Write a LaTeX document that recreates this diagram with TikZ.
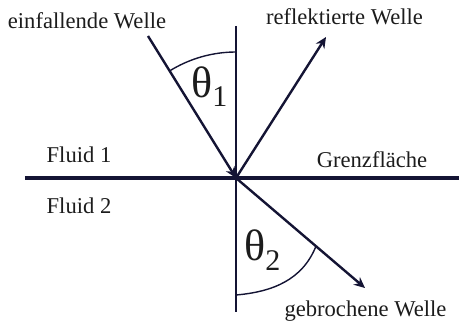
\documentclass[tikz,border=0pt]{standalone}
\usepackage{fontspec}
\setmainfont{Liberation Serif}
\usepackage{tikz}
\usetikzlibrary{arrows.meta,calc}
\definecolor{WaveNavy}{RGB}{20,20,52}
\definecolor{TextBlack}{RGB}{28,28,28}

\begin{document}
\begin{tikzpicture}[x=.5pt,y=.5pt,
    wave/.style={line width=1.2pt,WaveNavy,-{Stealth[length=5.5pt,width=5pt]}},
    lbl/.style={anchor=base,inner sep=0pt,TextBlack,font=\fontsize{11.3}{13}\selectfont},
    ang/.style={anchor=base west,inner sep=0pt,TextBlack,font=\fontsize{22}{24}\selectfont}]
  \useasboundingbox (-236,-144) rectangle (223,178);
  % points of the rays
  \coordinate (O) at (0,0);
  \coordinate (gL) at (-211,0);
  \coordinate (gR) at (223,0);
  \coordinate (nTop) at (0,152);
  \coordinate (nBot) at (0,-134);
  \coordinate (inc) at (-88,142);
  \coordinate (refl) at (90,141);
  \coordinate (refr) at (129,-110);
  \coordinate (a1) at (0,126);
  \coordinate (a2) at (0,-117);
  \draw[line width=1.7pt,WaveNavy] (gL) -- (gR);
  \draw[line width=.9pt,WaveNavy] (nTop) -- (nBot);
  \draw[wave] (inc) -- (O);
  \draw[wave] (O) -- (refl);
  \draw[wave] (O) -- (refr);
  % angles
  \draw[line width=.7pt,WaveNavy] (a1) arc[start angle=90,end angle=121.8,radius=63pt];
  \draw[line width=.7pt,WaveNavy] (a2) to[out=5,in=-112] ($(O)!.62!(refr)$);
  \node[lbl] (incLbl) at (-149,149) {einfallende Welle};
  \node[lbl] (reflLbl) at (108.5,153) {reflektierte Welle};
  \node[lbl] (fluidA) at (-157,16) {Fluid 1};
  \node[lbl] (fluidB) at (-157,-35) {Fluid 2};
  \node[lbl] (gLbl) at (136,11) {Grenzfläche};
  \node[lbl] (refrLbl) at (129.5,-138) {gebrochene Welle};
  \node[ang] (thA) at (-45,81) {θ\raisebox{-4.5pt}{\fontsize{15}{16}\selectfont 1}};
  \node[ang] (thB) at (8,-82) {θ\raisebox{-5pt}{\fontsize{15}{16}\selectfont 2}};
\end{tikzpicture}
\end{document}
